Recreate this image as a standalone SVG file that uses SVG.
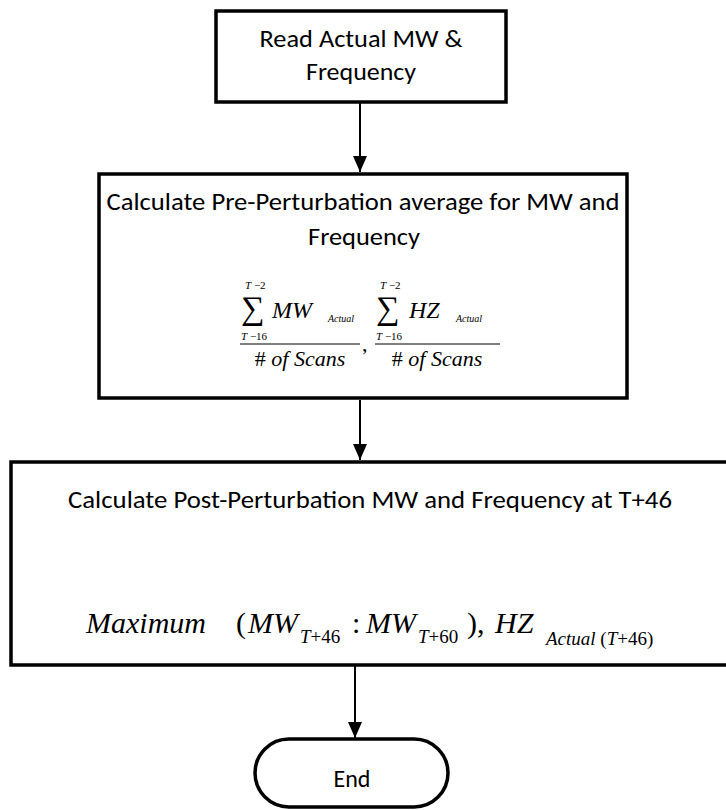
<svg xmlns="http://www.w3.org/2000/svg" width="726" height="810" viewBox="0 0 726 810">
<defs>
<marker id="ah" viewBox="0 0 16 14" refX="16" refY="7" markerWidth="16" markerHeight="14" markerUnits="userSpaceOnUse" orient="auto">
<path d="M0,0 L16,7 L0,14 Z" fill="#000"/>
</marker>
<style>
.box{fill:#fff;stroke:#000;stroke-width:3.5}
.lbl{font-family:Carlito,Calibri,"Open Sans",sans-serif;font-size:24px;fill:#000}
.m{font-family:"Liberation Serif","Times New Roman",serif;fill:#000}
.i{font-style:italic}
.conn{stroke:#000;stroke-width:2;fill:none;marker-end:url(#ah)}
</style>
</defs>
<rect width="726" height="810" fill="#fff"/>
<g id="connectors">
<line class="conn" x1="360" y1="103" x2="360" y2="172"/>
<line class="conn" x1="360" y1="400" x2="360" y2="460"/>
<line class="conn" x1="355" y1="665" x2="355" y2="738"/>
</g>
<g id="n1">
<rect class="box" x="216" y="11" width="290" height="91"/>
<text class="lbl" x="361" y="47" text-anchor="middle" textLength="203" lengthAdjust="spacingAndGlyphs">Read Actual MW &amp;</text>
<text class="lbl" x="361" y="80" text-anchor="middle" textLength="110" lengthAdjust="spacingAndGlyphs">Frequency</text>
</g>
<g id="n2">
<rect class="box" x="99" y="174" width="528" height="224"/>
<text class="lbl" x="363" y="210" text-anchor="middle" textLength="513" lengthAdjust="spacingAndGlyphs">Calculate Pre-Perturbation average for MW and</text>
<text class="lbl" x="364" y="245" text-anchor="middle" textLength="112" lengthAdjust="spacingAndGlyphs">Frequency</text>
<g class="m">
<text x="245" y="289" font-size="11"><tspan class="i">T</tspan> −2</text>
<text x="241" y="319" font-size="33">∑</text>
<text x="241" y="340" font-size="11"><tspan class="i">T</tspan> −16</text>
<text x="272" y="318" font-size="24" class="i">MW</text>
<text x="328" y="322" font-size="10" class="i">Actual</text>
<line x1="240" y1="344" x2="360" y2="344" stroke="#000" stroke-width="1"/>
<text x="300" y="366" font-size="22" text-anchor="middle"># <tspan class="i">of</tspan>  <tspan class="i">Scans</tspan></text>
<text x="362" y="351" font-size="22">,</text>
<text x="380" y="289" font-size="11"><tspan class="i">T</tspan> −2</text>
<text x="376" y="319" font-size="33">∑</text>
<text x="376" y="340" font-size="11"><tspan class="i">T</tspan> −16</text>
<text x="409" y="318" font-size="24" class="i">HZ</text>
<text x="456" y="322" font-size="10" class="i">Actual</text>
<line x1="375" y1="344" x2="500" y2="344" stroke="#000" stroke-width="1"/>
<text x="437" y="366" font-size="22" text-anchor="middle"># <tspan class="i">of</tspan>  <tspan class="i">Scans</tspan></text>
</g>
</g>
<g id="n3">
<rect class="box" x="11" y="462" width="730" height="203"/>
<text class="lbl" x="370" y="508" text-anchor="middle" textLength="604" lengthAdjust="spacingAndGlyphs">Calculate Post-Perturbation MW and Frequency at T+46</text>
<g class="m" font-size="30">
<text x="86" y="633" class="i">Maximum</text>
<text x="236" y="633">(</text>
<text x="248" y="633" class="i">MW</text>
<text x="300" y="643" font-size="19"><tspan class="i">T</tspan>+46</text>
<text x="352" y="633">:</text>
<text x="366" y="633" class="i">MW</text>
<text x="418" y="643" font-size="19"><tspan class="i">T</tspan>+60</text>
<text x="467" y="633">),</text>
<text x="495" y="633" class="i">HZ</text>
<text x="546" y="645" font-size="19"><tspan class="i">Actual</tspan> (<tspan class="i">T</tspan>+46)</text>
</g>
</g>
<g id="end">
<rect class="box" x="255" y="739" width="193" height="68" rx="34" ry="34"/>
<text class="lbl" x="352" y="787" text-anchor="middle">End</text>
</g>
</svg>
